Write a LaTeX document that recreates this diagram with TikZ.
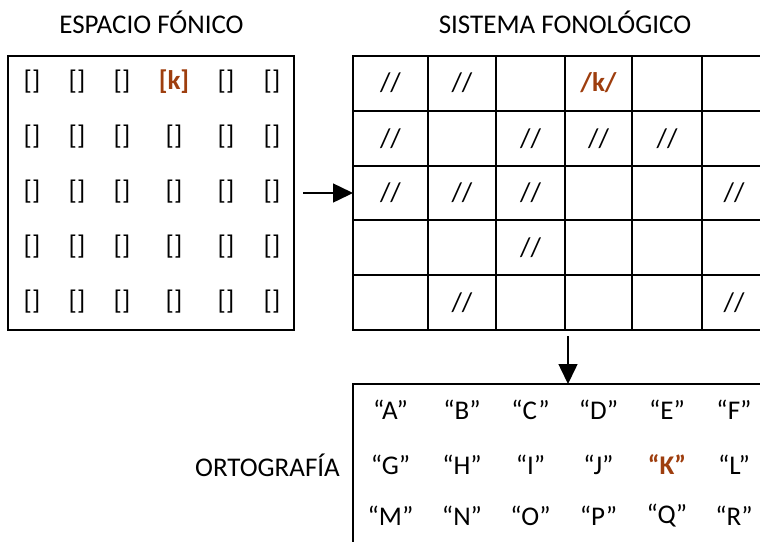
\documentclass[tikz,border=0pt]{standalone}
\usepackage{fontspec}
\setmainfont{Carlito}
\usetikzlibrary{arrows.meta}
\definecolor{brownk}{RGB}{158,62,14}
\begin{document}
\begin{tikzpicture}[x=1pt,y=-1pt,
  txt/.style={font=\fontsize{27}{31}\selectfont, inner sep=0pt},
  hl/.style={txt, text=brownk, font=\fontsize{27}{31}\selectfont\bfseries},
  frame/.style={draw=black, line width=2pt, outer sep=0pt},
  gridline/.style={draw=black, line width=2pt},
  arr/.style={line width=1.5pt, -{Triangle[length=20pt,width=19pt]}}]
\useasboundingbox (0,0) rectangle (760,542);
% titles
\node[txt, anchor=base] (t1) at (151.5,33) {ESPACIO FÓNICO};
\node[txt, anchor=base] (t2) at (565,33) {SISTEMA FONOLÓGICO};
% left box
\node[frame, minimum width=286pt, minimum height=274pt, anchor=north west, inner sep=0pt] (fon) at (8,56) {};
\foreach \x [count=\i] in {32,77,122,174,226,272}{
  \foreach \y [count=\j] in {82,137,192,247,302}{
    \ifnum\i=4 \ifnum\j=1
      \node[hl] (b\i\j) at (\x,\y) {[k]};
    \else
      \node[txt] (b\i\j) at (\x,\y) {[]};
    \fi\else
      \node[txt] (b\i\j) at (\x,\y) {[]};
    \fi
  }
}
% right grid
\foreach \x in {353,428,496,565,632,702}{
  \draw[gridline] (\x,55) -- (\x,331);
}
\foreach \y in {56,111,166,220,275,330}{
  \draw[gridline] (352,\y) -- (760,\y);
}
\coordinate (gridW) at (353,193);
\coordinate (gridS) at (568,336);
% grid texts
\newcommand{\cellx}[1]{\ifcase#1\or390.5\or462\or530.5\or598.5\or667\or734\fi}
\foreach \c/\r in {1/1,2/1,1/2,3/2,4/2,5/2,1/3,2/3,3/3,6/3,3/4,2/5,6/5}{
  \pgfmathsetmacro{\yy}{\r==1?83:(\r==2?138.5:(\r==3?193:(\r==4?247.5:302.5)))}
  \node[txt] (s\c\r) at (\cellx{\c},\yy) {//};
}
\node[hl] (s41) at (598.5,83) {/k/};
% arrows
\draw[arr] ([xshift=9pt]fon.east) -- (gridW);
\coordinate (ortN) at (568,384);
\draw[arr] (gridS) -- (ortN);
% bottom box
\draw[frame] (760,384) -- (353,384) -- (353,542);
\node[txt] (ort) at (267.5,465) {ORTOGRAFÍA};
\foreach \l [count=\i] in {A,B,C,D,E,F}{
  \node[txt] (o\i a) at (\cellx{\i},410) {“\l”};
}
\foreach \l [count=\i] in {G,H,I,J,K,L}{
  \ifnum\i=5
    \node[hl] (o\i b) at (\cellx{\i},465) {“\l”};
  \else
    \node[txt] (o\i b) at (\cellx{\i},465) {“\l”};
  \fi
}
\foreach \l [count=\i] in {M,N,O,P,Q,R}{
  \node[txt] (o\i c) at (\cellx{\i},516) {“\l”};
}
\end{tikzpicture}
\end{document}
